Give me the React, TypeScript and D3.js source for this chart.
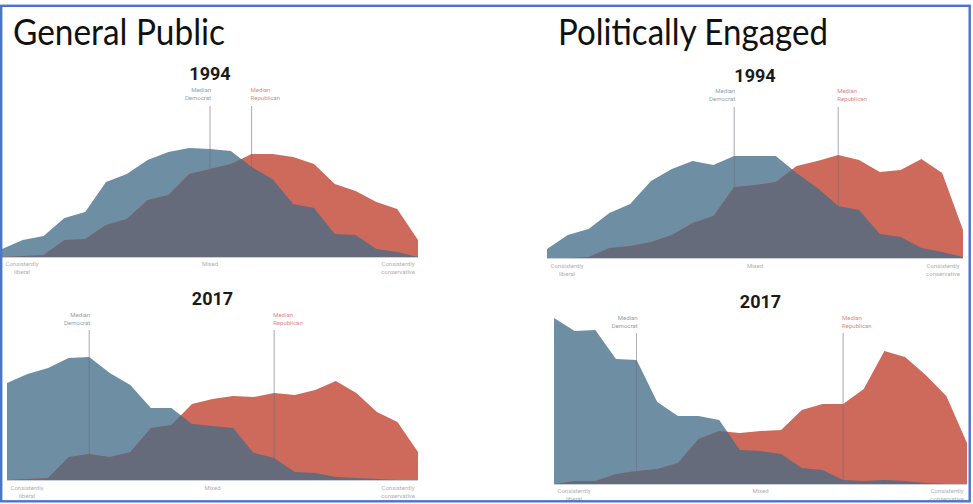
import React from "react";
import * as d3 from "d3";

const W = 973;
const H = 504;

// Ideological scale positions 0 (consistently liberal) .. 20 (consistently conservative)
const scalePoints = d3.range(21);

const gp1994Dem = [0.8, 1.7, 2.1, 3.9, 4.5, 7.5, 8.3, 9.7, 10.5, 10.9, 10.8, 10.6, 9.0, 7.8, 5.3, 4.9, 2.3, 2.2, 0.8, 0.5, 0];
const gp1994Rep = [0, 0.1, 0.2, 1.7, 1.8, 3.2, 3.8, 5.7, 6.2, 8.3, 8.8, 9.3, 10.3, 10.3, 10.0, 9.3, 7.3, 6.6, 5.5, 4.8, 1.7];
const pe1994Dem = [0.9, 2.3, 2.9, 4.5, 5.4, 7.7, 8.9, 9.7, 9.3, 10.2, 10.2, 10.2, 8.5, 7.0, 5.2, 4.8, 2.4, 2.1, 1.0, 0.6, 0.1];
const pe1994Rep = [0, 0, 0.1, 1.0, 1.2, 1.6, 2.3, 3.5, 4.2, 7.1, 7.3, 7.6, 9.2, 9.7, 10.3, 9.8, 8.6, 8.8, 9.9, 8.5, 2.8];
const gp2017Dem = [9.7, 10.6, 11.2, 12.2, 12.3, 10.7, 9.5, 7.2, 7.2, 5.6, 5.4, 5.2, 2.7, 2.2, 0.8, 0.7, 0.3, 0.2, 0.1, 0, 0];
const gp2017Rep = [0, 0.1, 0.2, 2.3, 2.6, 2.3, 2.8, 5.2, 5.5, 7.6, 8.1, 8.4, 8.3, 8.7, 8.5, 9.0, 9.9, 8.7, 6.8, 5.8, 2.8];
const pe2017Dem = [16.6, 15.3, 15.4, 12.5, 12.4, 8.2, 6.8, 6.8, 6.4, 3.4, 3.3, 3.0, 1.6, 1.4, 0.4, 0.3, 0.4, 0.3, 0.1, 0, 0];
const pe2017Rep = [0, 0.3, 0.3, 1.0, 1.3, 1.5, 2.1, 4.5, 5.3, 5.1, 5.3, 5.4, 7.4, 8.0, 8.0, 9.5, 13.3, 12.7, 10.9, 8.8, 4.1];

// median positions on the 0..20 scale: [Democrat, Republican]
const gp1994Medians = [10, 12];
const pe1994Medians = [9, 14];
const gp2017Medians = [4, 13];
const pe2017Medians = [4, 14];

const groupTitles = ["General Public", "Politically Engaged"];
const yearLabels = ["1994", "2017"];
const axisLabels = ["Consistently\nliberal", "Mixed", "Consistently\nconservative"];
const medianLabels = ["Median\nDemocrat", "Median\nRepublican"];

const BLUE = "#6e8ea3";
const RED = "#cd6a5b";
const OVERLAP = "#656b7a";
const BLUE_TEXT = "#8ea3b4";
const RED_TEXT = "#dc8a7e";
const GREY_TEXT = "#b0b0b0";

type PanelSpec = {
  id: string;
  year: string;
  dem: number[];
  rep: number[];
  medians: number[];
  x0: number;
  x1: number;
  base: number;
  lineTop: number;
  yearY: number;
  medY: number;
  axisY: number;
};

const panels: PanelSpec[] = [
  { id: "gp94", year: yearLabels[0], dem: gp1994Dem, rep: gp1994Rep, medians: gp1994Medians, x0: 2, x1: 418, base: 257, lineTop: 106, yearY: 80, medY: 92, axisY: 266 },
  { id: "pe94", year: yearLabels[0], dem: pe1994Dem, rep: pe1994Rep, medians: pe1994Medians, x0: 547, x1: 963, base: 258, lineTop: 107, yearY: 82, medY: 93, axisY: 268 },
  { id: "gp17", year: yearLabels[1], dem: gp2017Dem, rep: gp2017Rep, medians: gp2017Medians, x0: 7, x1: 418, base: 480, lineTop: 330, yearY: 305, medY: 317, axisY: 490 },
  { id: "pe17", year: yearLabels[1], dem: pe2017Dem, rep: pe2017Rep, medians: pe2017Medians, x0: 554, x1: 967, base: 484, lineTop: 333, yearY: 308, medY: 320, axisY: 493 },
];

const UNIT_PX = 10; // vertical pixels per unit of share

function Panel({ p }: { p: PanelSpec }) {
  const x = d3.scaleLinear().domain([0, 20]).range([p.x0, p.x1]);
  const y = d3.scaleLinear().domain([0, 20]).range([p.base, p.base - 20 * UNIT_PX]);
  const area = d3
    .area<number>()
    .x((_, i) => x(scalePoints[i]))
    .y0(y(0))
    .y1((d) => y(d));
  const demPath = area(p.dem) || "";
  const repPath = area(p.rep) || "";
  const cx = (p.x0 + p.x1) / 2;
  const [mDem, mRep] = p.medians;
  const axisPos = [x(0) + 20, x(10), x(20) - 20];
  return (
    <g>
      <defs>
        <clipPath id={`clip-${p.id}`}>
          <path d={demPath} />
        </clipPath>
      </defs>
      <text x={cx} y={p.yearY} textAnchor="middle" fontFamily="Roboto" fontWeight={700} fontSize={18} fill="#1a1a1a">
        {p.year}
      </text>
      <path d={demPath} fill={BLUE} />
      <path d={repPath} fill={RED} />
      <path d={repPath} fill={OVERLAP} clipPath={`url(#clip-${p.id})`} />
      <line x1={x(0)} x2={x(20)} y1={p.base + 0.5} y2={p.base + 0.5} stroke="#c9ced8" strokeWidth={1.2} />
      <line x1={x(mDem)} x2={x(mDem)} y1={p.lineTop} y2={p.base} stroke="#6a6e78" strokeWidth={0.8} opacity={0.75} />
      <line x1={x(mRep)} x2={x(mRep)} y1={p.lineTop} y2={p.base} stroke="#6a6e78" strokeWidth={0.8} opacity={0.75} />
      <text x={x(mDem) + 1} y={p.medY} textAnchor="end" fontFamily="Roboto" fontSize={6} fill={BLUE_TEXT}>
        {medianLabels[0].split("\n").map((t, i) => (
          <tspan key={i} x={x(mDem) + 1} dy={i === 0 ? 0 : 8}>{t}</tspan>
        ))}
      </text>
      <text x={x(mRep) - 1} y={p.medY} textAnchor="start" fontFamily="Roboto" fontSize={6} fill={RED_TEXT}>
        {medianLabels[1].split("\n").map((t, i) => (
          <tspan key={i} x={x(mRep) - 1} dy={i === 0 ? 0 : 8}>{t}</tspan>
        ))}
      </text>
      {axisLabels.map((lab, k) => (
        <text key={k} x={axisPos[k]} y={p.axisY} textAnchor="middle" fontFamily="Roboto" fontSize={6} fill={GREY_TEXT}>
          {lab.split("\n").map((t, i) => (
            <tspan key={i} x={axisPos[k]} dy={i === 0 ? 0 : 8}>{t}</tspan>
          ))}
        </text>
      ))}
    </g>
  );
}

export default function App() {
  return (
    <svg width={W} height={H} style={{ position: "absolute", left: 0, top: 0, background: "#fff" }}>
      <rect x={0} y={0} width={W} height={H} fill="#fff" />
      <text x={13} y={45} fontFamily="Lato" fontSize={37} fill="#111" textLength={212} lengthAdjust="spacingAndGlyphs">
        {groupTitles[0]}
      </text>
      <text x={558} y={45} fontFamily="Lato" fontSize={37} fill="#111" textLength={270} lengthAdjust="spacingAndGlyphs">
        {groupTitles[1]}
      </text>
      {panels.map((p) => (
        <Panel key={p.id} p={p} />
      ))}
      <rect x={1.2} y={5.8} width={968.5} height={495.5} fill="none" stroke="#4a76c8" strokeWidth={2.4} />
    </svg>
  );
}
